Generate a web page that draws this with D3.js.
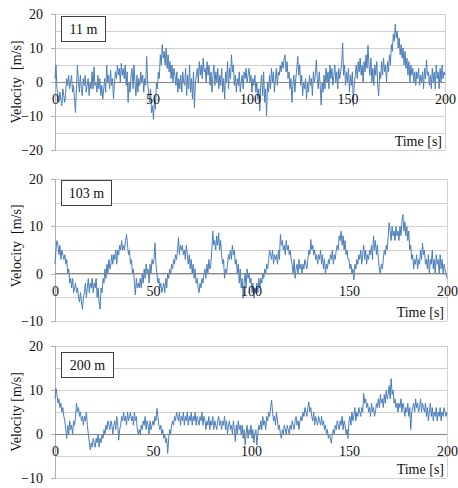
<!DOCTYPE html>
<html>
<head>
<meta charset="utf-8">
<script src="https://cdn.jsdelivr.net/npm/d3@7"></script>
<style>
  html, body { margin: 0; padding: 0; background: #fff; }
  svg { display: block; }
  text { font-family: "Liberation Serif", "Times New Roman", serif; fill: #111; }
</style>
</head>
<body>
<svg id="chart" width="458" height="488"></svg>
<script>
// Wind velocity records at three heights, sampled every 0.5 s over 200 s.
const heightLabels = ["11 m", "103 m", "200 m"];
const timeTicks = [0, 50, 100, 150, 200];
const timeSpan = [0, 200];

const velocity11m = [
  1, 5, -2, -4, -6, -3, -5, -7, -2, -4,
  -6, -3, 1, -1, 2, -2, 0, 2, -3, -1,
  -5, -9, -2, 5, 0, -3, 2, -2, -4, 1,
  -1, 2, -3, -1, 1, -4, 0, -2, 3, -2,
  4.5, -1, 0, -3, 2, -2, 1, -4, -1, -5,
  -2, 1, -3, 5, 0, 2, -2, 3.5, -1, 1,
  -5, 0, 3, 1, 5, 2, 4, 0, 5.5, 2,
  4, 1, 5, -1, 3, -6, 0, -3, 2, 4,
  -2, 5, 0, -4, 2, -3, 1, -1, 3, 0,
  2, -3, 1, -1, 7.5, 0, -3, -6, -2, -9,
  -7, -11, -5, -8, 0, -2, 3, 1, 8, 5,
  11, 7, 9, 5, 10, 4, 8, 3, 6, 1,
  5, 0, 4, 2, -1, 3, -3, 1, -2, 2,
  -3, 3, 0, -1, 4, -4, 2, -2, 5, -3,
  1, -5, 3, -7.5, 0, 2, 4, 0, 6, 2,
  5, 1, 7, 3, 4, 0, 6, 2, 5, -1,
  3, -3, 2, 5, -1, 3, 0, 4, -2, 2,
  -1, 4, -3, 1, -5, 3, 0, 6, -2, 4,
  1, 8, 3, 5, -1, 2, -3, 1, -1, 3,
  -3, 0, 2, -2, 3, 1, 4, 0, 2, 4,
  0, 2, -3, 1, -1, 2, -3, 0, -5, -2,
  -8.5, -1, 2, -4, 3, -6, -2, -10, 0, -3,
  2, -2, 4, 0, 3, -3, 1, 4, -1, 3,
  2, 5, 3, 6, 4, 7, 8, 3, 6, 1,
  3, -2, 1, -6, -1, 2, -3, 1, 4, 7.5,
  2, 5, -1, 2, -4, 0, -2, 1, -5, 0,
  -3, 2, -1, 1, -4, 3, 0, 2, 6.5, 1,
  -2, 3, -1, -6.8, 0, -3, 2, -2, 4, 0,
  3, -2, 5, 1, 4, -1, 2, 5, 0, 3,
  -2, 4, 1, 3, 5, 11.5, 2, 5, -1, 3,
  0, 4, -3, 2, -1, 3, -7, 0, 2, 5,
  1, 6, 3, 7, 2, 5, 0, 6, 3, 8,
  4, 10.8, 5, 2, 7, 0, 4, -1, 5, 2,
  6, -1, -4, 3, 1, 6, 2, 7, 3, 5,
  0, 6, 3, 8, 5, 11, 9, 14, 12, 17,
  13, 15, 10, 13, 8, 11, 7, 10, 5, 9,
  4, 7, 2, 6, 0, 5, 2, 4, 0, 3,
  -1, 3, 1, 4, -1, 2, 0, 3, -2, 4,
  1, 6.5, 2, 3, -1, 2, -2, 4, 0, 3,
  -2, 5, 1, 3, -2, 4, 0, 5, 1, 3,
  2
];

const velocity103m = [
  2, 5, 7, 6, 4, 6, 3, 5, 4, 3,
  4, 2, 3, 0, 1, -2, -1, -3, -1, -4,
  -3, -2, -4, -3, -5, -6, -4, -6, -7.5, -5,
  -4, -2, -5, -3, -1, -4, -2, -3, -1, -4,
  -2, -3, -1, -5, -3, -6, -7.5, -3, -4, -1,
  -2, 1, -1, 2, 0, 3, 1, 2, 4, 2,
  4, 3, 5, 2, 5, 4, 6, 5, 7, 5,
  6, 5, 7, 8.3, 6, 4, 5, 2, 3, 0,
  1, -2, -4.5, -1, -3, -2, -3, -1, -3, 0,
  -2, 1, -1, 2, 0, 1, -2, 2, 0, 3,
  2, 3, 6.5, 2, 0, -2, -1, -3, -2, -4,
  -3, -2, -4, -1, -3, 0, -1, 1, 0, 2,
  1, 3, 2, 4, 3, 5, 7.6, 4, 6, 5,
  6, 4, 5, 3, 6, 4, 2, 4, 1, 3,
  0, 2, -1, 1, -2, -1, -3, -4, -2, -3,
  -1, -2, 0, 1, -1, 2, 0, 3, 1, 2,
  5, 9, 6, 7, 5, 8, 6, 8.6, 5, 7,
  4, 2, 3, -1, 1, 0, 2, 4, 3, 5,
  3, 6, 4, 5, 2, 3, 0, 2, -2, 1,
  -3, -1, -5.2, -2, 0, -3, 1, -1, 0, -2,
  -1, -4, -2, -5.2, -3, -4, -2, -4, -1, -3,
  -1, -2, 0, -1, 1, 0, 2, 1, 3, 5,
  4, 3, 5, 2, 4, 3, 4, 2, 5, 3,
  8.3, 6, 7, 5, 6, 4, 7, 5, 6, 4,
  5, 3, 2, 0, 3, -1, 1, 2, 0, 3,
  1, 2, 0, 2, 1, 3, 2, 1, 3, 5,
  4, 7.2, 5, 6, 4, 5, 3, 4, 2, 4,
  3, 5, 2, 4, 1, 3, 0, 2, 1, 3,
  2, 4, 3, 5, 2, 4, 3, 5, 6, 5,
  8, 7, 9, 6, 8, 5, 7, 4, 5, 3,
  3, 1, 2, 0, 1, -1.3, 2, 1, 3, 2,
  4, 3, 5, 2, 4, 6, 3, 5, 2, 4,
  3, 5, 4, 6, 3, 8, 5, 7, 4, 6,
  3, 1, 0, 2, 1, 3, 5, 4, 6, 5,
  8, 10.8, 9, 7, 10, 8, 9, 7, 10, 8,
  9, 7, 10, 8, 11, 12.5, 9, 11, 8, 10,
  7, 9, 5, 6, 3, 4, 1, 3, 2, 4,
  1, 3, 2, 5, 3, 6.5, 4, 5, 2, 3,
  1, 4, 0, 3, 2, 5, 1, 3, 0, 4,
  2, 3, 0, 4, 1, 3, 0, 2, 1, 0,
  -1
];

const velocity200m = [
  8, 10.4, 9, 7, 8, 6, 7, 5, 6, 4,
  3, 1, -1, 2, 0, 3, 1, 2, 0, 3,
  2, 4, 7, 5, 6, 4, 5, 3, 4, 2,
  4, 3, 5, 2, 0, -2, -3.6, -2, -3, -1,
  -2, -3, -1, -2, 0, -3, -1, -2, 0, -1,
  1, 0, 2, 1, 3, 2, 1, 3, 2, 0,
  2, 3, 1, 4, 2, -1.4, 1, 2, 4, 3,
  5, 3, 4, 2, 5, 3, 4, 5, 3, 4,
  2, 5, 3, 4, 1, 0, 1, 0, 2, 1,
  3, 2, 4, 1, 3, 2, 0, 3, 1, 2,
  3, 2, 4, 3, 5.8, 4, 2, 1, 2, 0,
  1, -1, 0, -2, -1, -4.4, -1, 1, 0, 2,
  3, 2, 4, 3, 5, 4, 3, 5, 2, 4,
  3, 5, 2, 4, 3, 5, 2, 4, 3, 5,
  2, 4, 3, 5, 2, 4, 3, 2, 4, 3,
  5, 2, 4, 3, 1, 3, 2, 4, 1, 3,
  2, 4, 1, 3, 2, 1, 3, 4, 2, 3,
  1, 3, 2, 4, 1, 3, 0, 2, 3, 1,
  2, 0, 3, 1, -1.7, 2, 0, 3, 1, 2,
  0, 2, -1, 1, -2.5, 0, 2, -1, 1, 0,
  2, -1, 1, -2, 0, 1, -2.5, 0, 2, 1,
  3, 1, 4, 2, 3, 1, 4, 3, 5, 4,
  6, 7.7, 5, 3, 4, 2, 5, 3, 1, 2,
  0, -1, 1, 0, 2, 1, 0, 2, 1, 0,
  2, 1, 3, 2, 1, 3, 4, 2, 3, 1,
  3, 4, 3, 5, 4, 6, 5, 4, 6, 7.3,
  5, 6, 4, 3, 5, 2, 4, 3, 2, 4,
  3, 2, 4, 2, 3, 1, 2, 0, 1, -1,
  0, -1, -2.1, 0, 1, 0, 2, 1, 3, 2,
  1, 3, 2, 4, 1, 3, 2, 0, 1, -1,
  3, 4, 2, 5, 3, 4, 6, 3, 5, 4,
  6, 5, 4, 6, 5, 9.2, 7, 8, 6, 7,
  5, 6, 4, 7, 5, 6, 4, 5, 7, 6,
  8, 6, 9, 7, 8, 6, 9, 7, 10, 8,
  9, 11, 8, 12.6, 9, 10, 7, 8, 6, 7,
  5, 7, 6, 8, 5, 7, 6, 4, 6, 5,
  7, 4, 6, 1, 5, 6, 7, 5, 8, 6,
  7, 5, 6, 8, 5, 7, 6, 5, 7, 4,
  6, 3, 5, 7, 4, 6, 3, 5, 4, 6,
  3, 5, 4, 6, 3, 5, 4, 6, 5, 4,
  5
];

const velocitySeries = [velocity11m, velocity103m, velocity200m];
const velocityDomains = [[-20, 20], [-10, 20], [-10, 20]];
const gridSteps = [[20, 15, 10, 5, 0, -5, -10, -15, -20], [20, 15, 10, 5, 0, -5, -10], [20, 15, 10, 5, 0, -5, -10]];
const labelTicks = [[20, 10, 0, -10, -20], [20, 10, 0, -10], [20, 10, 0, -10]];

// Panel geometry
const layout = [
  { left: 55, right: 445, top: 14, bottom: 150, boxW: 44, boxY: 16, axisTitle: "Velocity  [m/s]", titleY: 82 },
  { left: 55, right: 447, top: 179, bottom: 321, boxW: 50, boxY: 180, axisTitle: "Velocity  [m/s]", titleY: 246 },
  { left: 55, right: 447, top: 346, bottom: 478, boxW: 52, boxY: 352, axisTitle: "Velocity [m/s]", titleY: 412 }
];

const svg = d3.select("#chart");
const fontSize = 14;

layout.forEach((p, i) => {
  const values = velocitySeries[i];
  const x = d3.scaleLinear().domain(timeSpan).range([p.left, p.right]);
  const y = d3.scaleLinear().domain(velocityDomains[i]).range([p.bottom, p.top]);
  const dt = (timeSpan[1] - timeSpan[0]) / (values.length - 1);
  const g = svg.append("g");

  // horizontal gridlines
  const grid = g.append("g")
    .attr("transform", `translate(${p.left},0)`)
    .call(d3.axisLeft(y).tickValues(gridSteps[i]).tickSize(-(p.right - p.left)).tickFormat(""));
  grid.select(".domain").remove();
  grid.selectAll(".tick line").attr("stroke", "#d0d0d0").attr("stroke-width", 1)
    .attr("shape-rendering", "crispEdges");

  // right border
  g.append("line")
    .attr("x1", p.right).attr("x2", p.right).attr("y1", p.top).attr("y2", p.bottom)
    .attr("stroke", "#d0d0d0").attr("shape-rendering", "crispEdges");

  // left axis with labels at every 10
  const yAxis = g.append("g")
    .attr("transform", `translate(${p.left},0)`)
    .call(d3.axisLeft(y).tickValues(labelTicks[i]).tickSize(4).tickPadding(8).tickFormat(d3.format("d")));
  yAxis.select(".domain").attr("stroke", "#b0b0b0").attr("shape-rendering", "crispEdges");
  yAxis.selectAll(".tick line").attr("stroke", "#b0b0b0").attr("shape-rendering", "crispEdges");
  yAxis.selectAll(".tick text")
    .style("font-family", '"Liberation Serif", "Times New Roman", serif')
    .style("font-size", fontSize + "px").attr("fill", "#111");

  // velocity trace
  const line = d3.line()
    .x((d, k) => x(timeSpan[0] + k * dt))
    .y(d => y(d));
  g.append("path")
    .datum(values)
    .attr("fill", "none")
    .attr("stroke", "#4a7ebb")
    .attr("stroke-width", 1)
    .attr("stroke-linejoin", "round")
    .attr("d", line);

  // zero axis line
  g.append("line")
    .attr("x1", p.left).attr("x2", p.right).attr("y1", y(0)).attr("y2", y(0))
    .attr("stroke", "#868686").attr("stroke-width", 1).attr("shape-rendering", "crispEdges");

  // time tick labels under the zero line
  const xAxis = g.append("g")
    .attr("transform", `translate(0,${y(0)})`)
    .call(d3.axisBottom(x).tickValues(timeTicks).tickSize(0).tickPadding(12).tickFormat(d3.format("d")));
  xAxis.select(".domain").remove();
  xAxis.selectAll(".tick text")
    .style("font-family", '"Liberation Serif", "Times New Roman", serif')
    .style("font-size", fontSize + "px").attr("fill", "#111");

  // time axis title
  g.append("text")
    .attr("x", p.right - 3).attr("y", p.bottom - 4)
    .attr("text-anchor", "end")
    .style("font-size", fontSize + "px")
    .text("Time [s]");

  // velocity axis title
  g.append("text")
    .attr("transform", `translate(21,${p.titleY}) rotate(-90)`)
    .attr("text-anchor", "middle")
    .style("font-size", fontSize + "px")
    .style("white-space", "pre")
    .text(p.axisTitle);

  // height tag
  g.append("rect")
    .attr("x", 61.5).attr("y", p.boxY + 0.5).attr("width", p.boxW).attr("height", 25)
    .attr("fill", "#fff").attr("stroke", "#404040").attr("stroke-width", 1);
  g.append("text")
    .attr("x", 61.5 + p.boxW / 2).attr("y", p.boxY + 18)
    .attr("text-anchor", "middle")
    .style("font-size", fontSize + "px")
    .text(heightLabels[i]);
});
</script>
</body>
</html>
